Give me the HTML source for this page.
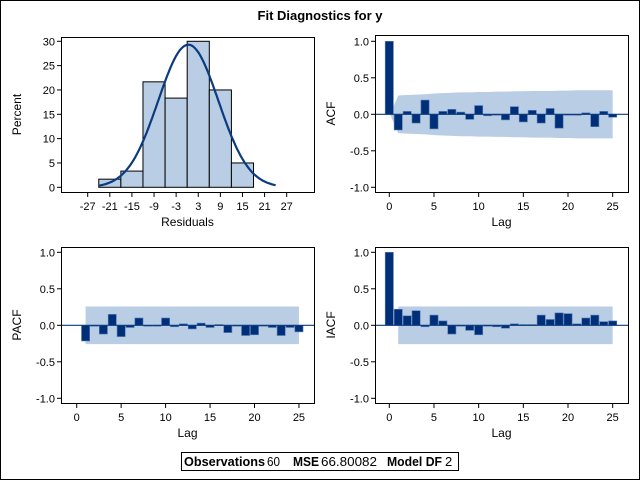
<!DOCTYPE html>
<html><head><meta charset="utf-8"><style>
html,body{margin:0;padding:0;background:#fff}
svg{display:block;font-family:"Liberation Sans",Arial,sans-serif}
</style></head><body>
<svg id="chart" width="640" height="480" viewBox="0 0 640 480">
<rect x="0.5" y="0.5" width="639" height="479" fill="#fff" stroke="#000"/>
<text x="320" y="20" text-anchor="middle" font-size="13" font-weight="bold">Fit Diagnostics for y</text>
<g id="g1"></g>
<g id="g2"></g>
<g id="g3"></g>
<g id="g4"></g>
<g>
<rect x="181.5" y="452.5" width="277" height="18" fill="#fff" stroke="#000"/>
<text y="466" font-size="13"><tspan x="184" font-weight="bold" textLength="81" lengthAdjust="spacingAndGlyphs">Observations</tspan><tspan x="267" textLength="13" lengthAdjust="spacingAndGlyphs">60</tspan><tspan x="293" font-weight="bold" textLength="26" lengthAdjust="spacingAndGlyphs">MSE</tspan><tspan x="321" textLength="56" lengthAdjust="spacingAndGlyphs">66.80082</tspan><tspan x="387" font-weight="bold" textLength="55" lengthAdjust="spacingAndGlyphs">Model DF</tspan><tspan x="445">2</tspan></text>
</g>
</svg>
<script>
// Histogram data
const binStarts = [-24,-18,-12,-6,0,6,12];
const binPercents = [1.67,3.33,21.67,18.33,30,20,5];
const histXTicks = [-27,-21,-15,-9,-3,3,9,15,21,27];
const histYTicks = [0,5,10,15,20,25,30];
const normalMean = [0.3];
const normalSd = [8.17];
// ACF data
const acfLags = [0,1,2,3,4,5,6,7,8,9,10,11,12,13,14,15,16,17,18,19,20,21,22,23,24,25];
const acfValues = [1,-0.215,0.04,-0.12,0.195,-0.2,0.04,0.068,0.03,-0.07,0.12,-0.02,0.0,-0.077,0.105,-0.105,0.055,-0.12,0.08,-0.19,-0.01,-0.01,0.02,-0.17,0.04,-0.04];
const acfBand = [0.02,0.258,0.265,0.27,0.275,0.285,0.29,0.295,0.3,0.3,0.305,0.305,0.31,0.31,0.315,0.315,0.32,0.32,0.32,0.325,0.325,0.33,0.33,0.33,0.33,0.33];
// PACF data
const pacfLags = [1,2,3,4,5,6,7,8,9,10,11,12,13,14,15,16,17,18,19,20,21,22,23,24,25];
const pacfValues = [-0.215,-0.01,-0.12,0.15,-0.155,-0.03,0.1,-0.01,0.0,0.1,-0.02,0.02,-0.05,0.03,-0.03,0.01,-0.1,0.0,-0.14,-0.13,0.0,-0.03,-0.14,-0.03,-0.09];
const pacfBand = [0.258];
// IACF data
const iacfLags = [0,1,2,3,4,5,6,7,8,9,10,11,12,13,14,15,16,17,18,19,20,21,22,23,24,25];
const iacfValues = [1,0.22,0.13,0.2,-0.02,0.14,0.06,-0.12,0.0,-0.07,-0.13,-0.01,-0.02,-0.04,0.02,0.01,0.01,0.14,0.08,0.17,0.16,0.02,0.1,0.14,0.05,0.06];
const iacfBand = [0.258];
const corrYTicks = [-1.0,-0.5,0.0,0.5,1.0];
const lagTicks = [0,5,10,15,20,25];

const NS='http://www.w3.org/2000/svg';
function mk(parent,tag,attrs){const e=document.createElementNS(NS,tag);for(const k in attrs)e.setAttribute(k,attrs[k]);parent.appendChild(e);return e;}
function fmt1(v){return v.toFixed(1);}

function frameAxes(g,L,T,R,B,xs,ys,xt,yt,yfmt,xlabel,ylabel){
  const fr=mk(g,'rect',{x:L+0.5,y:T+0.5,width:R-L,height:B-T,fill:'none',stroke:'#000'});
  
  
  xt.forEach(v=>{const x=xs(v);
    const t=mk(g,'line',{x1:x,x2:x,y1:B+0.5,y2:B+5,stroke:'#000'});
    
    
    const l=mk(g,'text',{x:x,y:B+18,'text-anchor':'middle','font-size':11});
    l.textContent=String(v);
    
    });
  yt.forEach(v=>{const y=ys(v);
    const t=mk(g,'line',{x1:L-4,x2:L+0.5,y1:y,y2:y,stroke:'#000'});
    
    
    const l=mk(g,'text',{x:L-6,y:y+4,'text-anchor':'end','font-size':11});
    l.textContent=yfmt(v);
    
    });
  const xl=mk(g,'text',{x:(L+R)/2,y:B+34,'text-anchor':'middle','font-size':12});
  xl.textContent=xlabel;
  
  
  const cy=(T+B)/2, cx=L-40;
  const yl=mk(g,'text',{x:cx,y:cy,'text-anchor':'middle','font-size':12,transform:`rotate(-90 ${cx} ${cy})`});
  yl.textContent=ylabel;
  
  
}

// Panel 1: histogram
(function(){
  const g=document.getElementById('g1');
  const L=61,T=37,R=314,B=192;
  const xs=v=>87.7+(v+27)*3.685;
  const ys=v=>187.3-v*4.867;
  binStarts.forEach((s,i)=>{
    const x0=xs(s),x1=xs(s+6),y=ys(binPercents[i]);
    const r=mk(g,'rect',{x:x0,y:y,width:x1-x0,height:ys(0)-y,fill:'#b9cde5',stroke:'#000','stroke-width':1});
    
    
  });
  let d='';
  for(let i=0;i<=96;i++){const v=-24+i*0.5;
    const p=600/(normalSd[0]*Math.sqrt(2*Math.PI))*Math.exp(-0.5*Math.pow((v-normalMean[0])/normalSd[0],2));
    d+=(i?'L':'M')+xs(v).toFixed(1)+','+ys(p).toFixed(1);}
  const c=mk(g,'path',{d:d,fill:'none',stroke:'#0c3b7f','stroke-width':2.2});
  
  
  frameAxes(g,L,T,R,B,xs,ys,histXTicks,histYTicks,v=>String(v),'Residuals','Percent');
})();

function corrPanel(gid,L,T,R,B,x0,xstep,y0,lags,vals,band,bandStart,label){
  const g=document.getElementById(gid);
  const xs=v=>x0+v*xstep;
  const ys=v=>y0-v*73;
  let d;
  if(band.length>1){
    let up='',lo='';
    lags.forEach((l,i)=>{const x=xs(l===0?0.15:l);up+=(i?'L':'M')+x+','+ys(band[i]);});
    for(let i=lags.length-1;i>=0;i--){const l=lags[i];const x=xs(l===0?0.15:l);lo+='L'+x+','+ys(-band[i]);}
    d=up+lo+'Z';
  } else {
    d=`M${xs(bandStart)},${ys(band[0])}L${xs(25)},${ys(band[0])}L${xs(25)},${ys(-band[0])}L${xs(bandStart)},${ys(-band[0])}Z`;
  }
  const b=mk(g,'path',{d:d,fill:'#b9cde5'});
  
  
  lags.forEach((l,i)=>{
    const v=vals[i];const w=xstep*0.92;
    const yA=ys(Math.max(v,0)),yB=ys(Math.min(v,0));
    const r=mk(g,'rect',{x:xs(l)-w/2,y:yA,width:w,height:Math.max(yB-yA,1),fill:'#002f7a',stroke:'#5a7fb5','stroke-width':0.6});
    
    
  });
  const z=mk(g,'line',{x1:L,x2:R,y1:ys(0),y2:ys(0),stroke:'#0c3b7f','stroke-width':1.2});
  
  
  frameAxes(g,L,T,R,B,xs,ys,lagTicks,corrYTicks,fmt1,'Lag',label);
}
corrPanel('g2',375,35,628,192,389.3,8.935,114.3,acfLags,acfValues,acfBand,0,'ACF');
corrPanel('g3',61,247,314,403,76.7,8.89,325.3,pacfLags,pacfValues,pacfBand,1,'PACF');
corrPanel('g4',375,247,628,403,389.3,8.935,325.3,iacfLags,iacfValues,iacfBand,1,'IACF');
</script>
</body></html>
